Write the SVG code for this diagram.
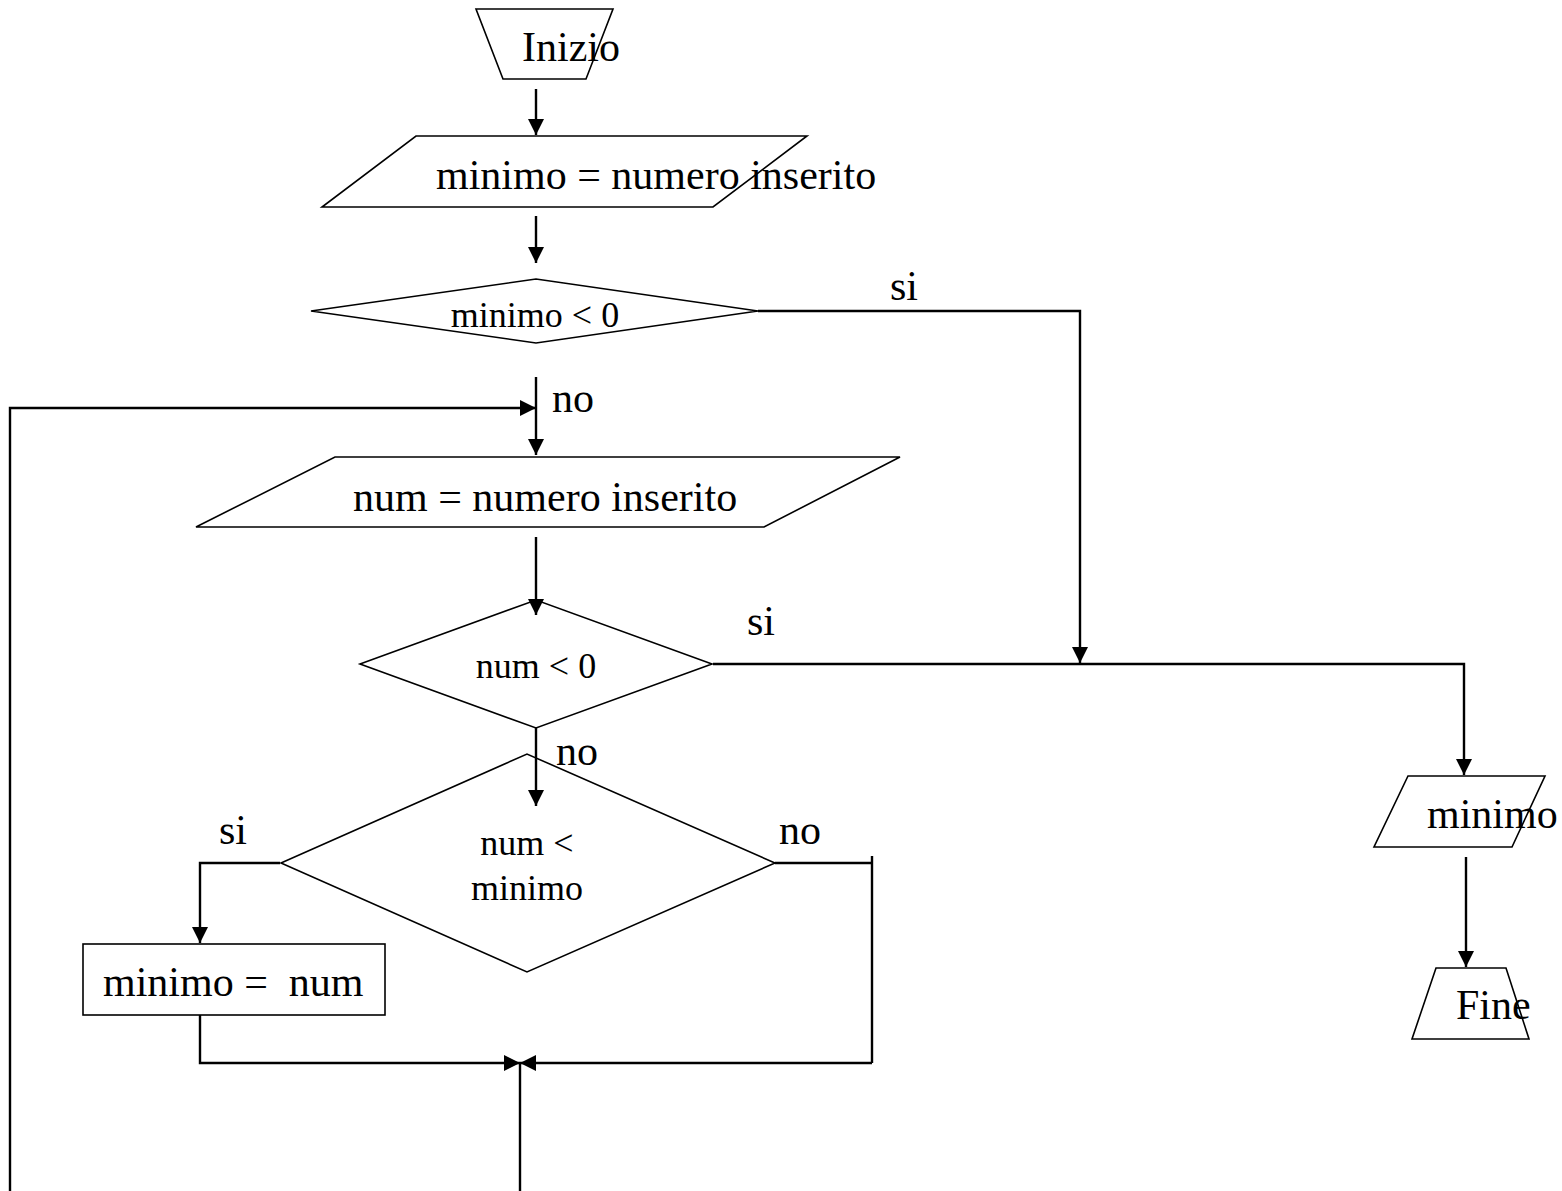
<svg xmlns="http://www.w3.org/2000/svg" width="1562" height="1191" viewBox="0 0 1562 1191">
<defs>
<style>
.shape{fill:#fff;stroke:#000;stroke-width:1.6;stroke-linejoin:miter}
.conn{fill:none;stroke:#000;stroke-width:2.4}
.t{font-family:"Liberation Serif","Times New Roman",serif;fill:#000}
.big{font-size:42px}
.small{font-size:36px}
</style>
<marker id="arr" markerUnits="userSpaceOnUse" viewBox="0 0 16 16" refX="16" refY="8" markerWidth="16" markerHeight="16" orient="auto">
<path d="M0,0 L16,8 L0,16 z" fill="#000"/>
</marker>
</defs>
<rect width="1562" height="1191" fill="#fff"/>

<g id="inizio">
<polygon class="shape" points="476,9 613,9 586,79 503,79"/>
<text class="t big" x="522" y="61">Inizio</text>
</g>

<g id="input-minimo">
<polygon class="shape" points="416,136 807,136 713,207 322,207"/>
<text class="t big" x="436" y="189">minimo = numero inserito</text>
</g>

<g id="cond-minimo">
<polygon class="shape" points="311,311 536,279 758,311 536,343"/>
<text class="t small" x="535" y="327" text-anchor="middle">minimo &lt; 0</text>
</g>

<g id="input-num">
<polygon class="shape" points="335,457 900,457 764,527 196,527"/>
<text class="t big" x="353" y="511">num = numero inserito</text>
</g>

<g id="cond-num">
<polygon class="shape" points="360,664 536,600 712,664 536,728"/>
<text class="t small" x="536" y="678" text-anchor="middle">num &lt; 0</text>
</g>

<g id="cond-num-minimo">
<polygon class="shape" points="281,863 527,754 775,863 527,972"/>
<text class="t small" x="527" y="855" text-anchor="middle">num &lt;</text>
<text class="t small" x="527" y="900" text-anchor="middle">minimo</text>
</g>

<g id="assign">
<rect class="shape" x="83" y="944" width="302" height="71"/>
<text class="t big" x="103" y="996" xml:space="preserve">minimo =  num</text>
</g>

<g id="output-minimo">
<polygon class="shape" points="1408,776 1545,776 1512,847 1374,847"/>
<text class="t big" x="1427" y="828">minimo</text>
</g>

<g id="fine">
<polygon class="shape" points="1436,968 1506,968 1529,1039 1412,1039"/>
<text class="t big" x="1456" y="1019">Fine</text>
</g>

<g id="connectors">
<line class="conn" x1="536" y1="89" x2="536" y2="135" marker-end="url(#arr)"/>
<line class="conn" x1="536" y1="216" x2="536" y2="263" marker-end="url(#arr)"/>
<polyline class="conn" points="758,311 1080,311 1080,663" marker-end="url(#arr)"/>
<line class="conn" x1="536" y1="377" x2="536" y2="455" marker-end="url(#arr)"/>
<polyline class="conn" points="10,1191 10,408 536,408" marker-end="url(#arr)"/>
<line class="conn" x1="536" y1="537" x2="536" y2="615" marker-end="url(#arr)"/>
<polyline class="conn" points="713,664 1464,664 1464,775" marker-end="url(#arr)"/>
<line class="conn" x1="536" y1="728" x2="536" y2="806" marker-end="url(#arr)"/>
<polyline class="conn" points="280,863 200,863 200,943" marker-end="url(#arr)"/>
<polyline class="conn" points="775,863 872,863"/>
<line class="conn" x1="872" y1="856" x2="872" y2="1063"/>
<polyline class="conn" points="200,1015 200,1063 520,1063" marker-end="url(#arr)"/>
<polyline class="conn" points="872,1063 520,1063" marker-end="url(#arr)"/>
<line class="conn" x1="520" y1="1063" x2="520" y2="1191"/>
<line class="conn" x1="1466" y1="857" x2="1466" y2="967" marker-end="url(#arr)"/>
<text class="t big" x="890" y="300">si</text>
<text class="t big" x="552" y="412">no</text>
<text class="t big" x="747" y="635">si</text>
<text class="t big" x="556" y="765">no</text>
<text class="t big" x="219" y="844">si</text>
<text class="t big" x="779" y="844">no</text>
</g>
</svg>
